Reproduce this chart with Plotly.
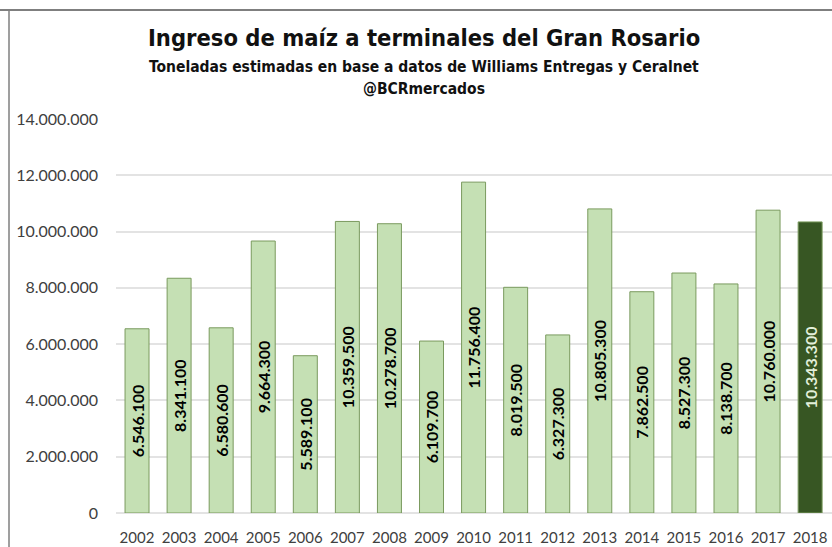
import plotly.graph_objects as go

years = ["2002", "2003", "2004", "2005", "2006", "2007", "2008", "2009", "2010",
         "2011", "2012", "2013", "2014", "2015", "2016", "2017", "2018"]
tonnes = [6546100, 8341100, 6580600, 9664300, 5589100, 10359500, 10278700, 6109700,
          11756400, 8019500, 6327300, 10805300, 7862500, 8527300, 8138700, 10760000, 10343300]
y_ticks = [0, 2000000, 4000000, 6000000, 8000000, 10000000, 12000000, 14000000]

title = "Ingreso de maíz a terminales del Gran Rosario"
subtitle = "Toneladas estimadas en base a datos de Williams Entregas y Ceralnet"
handle = "@BCRmercados"

light = "#C5E0B4"
dark = "#375623"
colors = [light] * (len(years) - 1) + [dark]
label_colors = ["#000000"] * (len(years) - 1) + ["#E2EFDA"]

W, H = 832, 547
L, R, T, B = 116, 0, 119, 34
pw, ph = W - L - R, H - T - B

fig = go.Figure(go.Bar(
    x=years, y=tonnes,
    marker=dict(color=colors, line=dict(color="#7A9A5E", width=1)),
    texttemplate="%{y:,}",
    textposition="inside",
    insidetextanchor="middle",
    textangle=-90,
    textfont=dict(family="Lato", size=16, color=label_colors, weight="bold"),
    constraintext="none",
    hoverinfo="skip",
))

def px(x):
    return (x - L) / pw

def py(y):
    return (H - B - y) / ph

fig.update_layout(
    width=W, height=H,
    margin=dict(l=L, r=R, t=T, b=B, pad=0),
    paper_bgcolor="white", plot_bgcolor="white",
    separators=",.",
    bargap=0.43,
    showlegend=False,
    xaxis=dict(
        type="category", range=[-0.5, 16.52],
        showgrid=False, showline=False, ticks="",
        tickfont=dict(family="Lato", size=15, color="#404040"),
        ticklabelstandoff=14,
    ),
    yaxis=dict(
        range=[0, 14000000], tickvals=y_ticks, tickformat=",d",
        showgrid=True, gridcolor="#E3E3E3", gridwidth=1.5,
        zeroline=True, zerolinecolor="#E3E3E3", zerolinewidth=1.5,
        showline=False, ticks="",
        tickfont=dict(family="Lato", size=16, color="#404040"),
        ticklabelstandoff=17,
    ),
    annotations=[
        dict(text=title, x=px(424), y=py(38), xref="paper", yref="paper",
             showarrow=False, xanchor="center", yanchor="middle",
             font=dict(family="DejaVu Sans Condensed", size=23.5, color="#111111", weight="bold")),
        dict(text=subtitle, x=px(424), y=py(67), xref="paper", yref="paper",
             showarrow=False, xanchor="center", yanchor="middle",
             font=dict(family="DejaVu Sans Condensed", size=15.5, color="#111111", weight="bold")),
        dict(text=handle, x=px(424), y=py(89), xref="paper", yref="paper",
             showarrow=False, xanchor="center", yanchor="middle",
             font=dict(family="DejaVu Sans Condensed", size=15.5, color="#111111", weight="bold")),
    ],
    shapes=[
        dict(type="line", xref="paper", yref="paper", x0=px(0), x1=px(832), y0=py(10), y1=py(10),
             line=dict(color="#7F7F7F", width=2)),
        dict(type="line", xref="paper", yref="paper", x0=px(9), x1=px(9), y0=py(10), y1=py(547),
             line=dict(color="#7F7F7F", width=1.5)),
    ],
)

fig.write_html("out.html", config={"displayModeBar": False},
               post_script="document.body.style.margin='0';document.body.style.overflow='hidden';")
